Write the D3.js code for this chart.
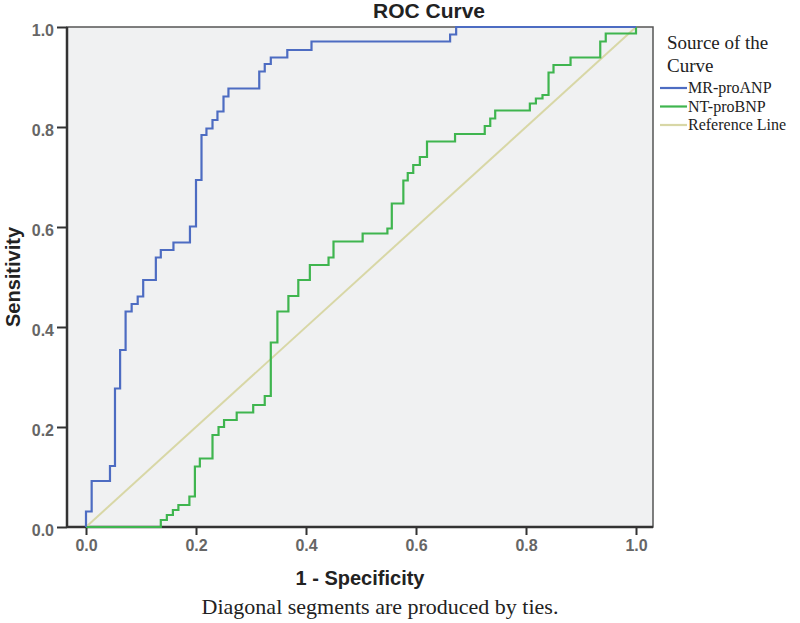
<!DOCTYPE html>
<html>
<head>
<meta charset="utf-8">
<script src="https://cdn.jsdelivr.net/npm/d3@7"></script>
<style>
  body { margin: 0; background: #fff; }
</style>
</head>
<body>
<svg id="chart"></svg>
<script>
// ROC data (x = 1 - specificity, y = sensitivity)
const mrFpr = [0, 0, 0.0103, 0.0436, 0.0527, 0.062, 0.072, 0.083, 0.094, 0.104, 0.127, 0.136, 0.159, 0.189, 0.2, 0.21, 0.219, 0.23, 0.239, 0.25, 0.259, 0.315, 0.325, 0.336, 0.366, 0.41, 0.662, 0.673, 1];
const mrTpr = [0, 0.031, 0.092, 0.122, 0.277, 0.354, 0.431, 0.446, 0.461, 0.494, 0.539, 0.554, 0.569, 0.601, 0.694, 0.784, 0.797, 0.814, 0.831, 0.861, 0.877, 0.911, 0.926, 0.939, 0.954, 0.971, 0.985, 1, 1];

const ntFpr = [0, 0.136, 0.147, 0.158, 0.168, 0.188, 0.198, 0.207, 0.23, 0.241, 0.251, 0.274, 0.304, 0.325, 0.336, 0.348, 0.368, 0.386, 0.407, 0.441, 0.45, 0.503, 0.548, 0.556, 0.577, 0.585, 0.595, 0.607, 0.62, 0.671, 0.725, 0.735, 0.744, 0.807, 0.818, 0.83, 0.841, 0.85, 0.881, 0.935, 0.945, 0.98, 1];
const ntTpr = [0, 0.014, 0.024, 0.034, 0.044, 0.061, 0.121, 0.137, 0.184, 0.2, 0.214, 0.229, 0.244, 0.262, 0.369, 0.431, 0.462, 0.494, 0.524, 0.539, 0.571, 0.587, 0.597, 0.647, 0.693, 0.708, 0.724, 0.74, 0.771, 0.786, 0.802, 0.817, 0.833, 0.847, 0.857, 0.864, 0.909, 0.924, 0.939, 0.971, 0.987, 0.987, 1];

const refFpr = [0, 1];
const refTpr = [0, 1];

const tickValues = [0, 0.2, 0.4, 0.6, 0.8, 1.0];
const seriesNames = ['MR-proANP', 'NT-proBNP', 'Reference Line'];
const seriesColors = ['#4d6cc2', '#3fb54f', '#d8d7a6'];

const width = 800;
const height = 623;

// frame and scale ranges
const frameLeft = 67, frameRight = 653, frameTop = 27, frameBottom = 527;

const svg = d3.select('#chart')
  .attr('width', width)
  .attr('height', height)
  .style('font-family', 'Arial, "Liberation Sans", sans-serif');

const x = d3.scaleLinear().domain([0, 1]).range([86, 636]);
const y = d3.scaleLinear().domain([0, 1]).range([frameBottom, frameTop]);

// plot background
svg.append('rect')
  .attr('x', frameLeft)
  .attr('y', frameTop)
  .attr('width', frameRight - frameLeft)
  .attr('height', frameBottom - frameTop)
  .attr('fill', '#f0f1f2')
  .attr('stroke', '#555')
  .attr('stroke-width', 1.5);

// title
svg.append('text')
  .attr('x', 429)
  .attr('y', 18)
  .attr('text-anchor', 'middle')
  .style('font-size', '21px')
  .style('font-weight', 'bold')
  .style('fill', '#222')
  .text('ROC Curve');

// axes
const yAxis = svg.append('g')
  .attr('transform', `translate(${frameLeft}, 0)`)
  .call(d3.axisLeft(y).tickValues(tickValues).tickFormat(d3.format('.1f')).tickSize(10).tickPadding(3));

const xAxis = svg.append('g')
  .attr('transform', `translate(0, ${frameBottom})`)
  .call(d3.axisBottom(x).tickValues(tickValues).tickFormat(d3.format('.1f')).tickSize(8).tickPadding(5));

[yAxis, xAxis].forEach(g => {
  g.select('.domain').remove();
  g.selectAll('.tick line').attr('stroke', '#333').attr('stroke-width', 2);
  g.selectAll('.tick text')
    .style('font-size', '16px')
    .style('font-weight', 'bold')
    .style('fill', '#666');
});
yAxis.selectAll('.tick text').attr('dy', '0.55em');

// darker left and bottom axis lines
svg.append('line')
  .attr('x1', frameLeft).attr('x2', frameLeft)
  .attr('y1', frameTop).attr('y2', frameBottom + 1)
  .attr('stroke', '#333')
  .attr('stroke-width', 2.5);

svg.append('line')
  .attr('x1', frameLeft).attr('x2', frameRight)
  .attr('y1', frameBottom).attr('y2', frameBottom)
  .attr('stroke', '#333')
  .attr('stroke-width', 2.5);

// curves, drawn over the frame
const line = d3.line()
  .x(d => x(d[0]))
  .y(d => y(d[1]));

const refData = d3.zip(refFpr, refTpr);
const mrData = d3.zip(mrFpr, mrTpr);
const ntData = d3.zip(ntFpr, ntTpr);

svg.append('path')
  .datum(refData)
  .attr('fill', 'none')
  .attr('stroke', seriesColors[2])
  .attr('stroke-width', 2)
  .attr('d', line);

svg.append('path')
  .datum(ntData)
  .attr('fill', 'none')
  .attr('stroke', seriesColors[1])
  .attr('stroke-width', 2.2)
  .attr('d', line.curve(d3.curveStepAfter));

svg.append('path')
  .datum(mrData)
  .attr('fill', 'none')
  .attr('stroke', seriesColors[0])
  .attr('stroke-width', 2.2)
  .attr('d', line.curve(d3.curveStepAfter));

// axis titles
svg.append('text')
  .attr('transform', `translate(20, 277) rotate(-90)`)
  .attr('text-anchor', 'middle')
  .style('font-size', '20px')
  .style('font-weight', 'bold')
  .style('fill', '#222')
  .text('Sensitivity');

svg.append('text')
  .attr('x', 360)
  .attr('y', 585)
  .attr('text-anchor', 'middle')
  .style('font-size', '20px')
  .style('font-weight', 'bold')
  .style('fill', '#222')
  .text('1 - Specificity');

svg.append('text')
  .attr('x', 380)
  .attr('y', 614)
  .attr('text-anchor', 'middle')
  .style('font-family', '"Liberation Serif", "Times New Roman", serif')
  .style('font-size', '22px')
  .style('fill', '#222')
  .text('Diagonal segments are produced by ties.');

// legend
const legend = svg.append('g')
  .style('font-family', '"Liberation Serif", "Times New Roman", serif')
  .style('fill', '#222');

legend.append('text')
  .attr('x', 667)
  .attr('y', 49)
  .style('font-size', '19px')
  .text('Source of the');

legend.append('text')
  .attr('x', 667)
  .attr('y', 72)
  .style('font-size', '19px')
  .text('Curve');

seriesNames.forEach((name, i) => {
  const ly = 88 + i * 18.5;
  legend.append('line')
    .attr('x1', 660).attr('x2', 687)
    .attr('y1', ly).attr('y2', ly)
    .attr('stroke', seriesColors[i])
    .attr('stroke-width', 2.2);
  legend.append('text')
    .attr('x', 688)
    .attr('y', ly + 5)
    .style('font-size', '16px')
    .text(name);
});
</script>
</body>
</html>
